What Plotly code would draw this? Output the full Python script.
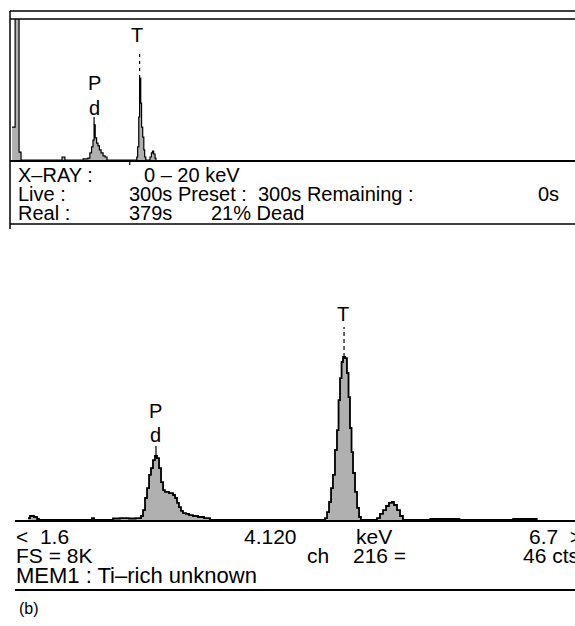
import plotly.graph_objects as go

W, H = 575, 626

# ---------------- data ----------------
# survey spectrum, 0-20 keV (channel start energy in keV, counts)
top_kev = [-0.07, 0.04, 0.18, 0.25, 1.71, 1.81,
           2.46, 2.63, 2.70, 2.76, 2.81, 2.85, 2.89, 2.94, 2.99, 3.04, 3.10, 3.17, 3.24, 3.31,
           4.37, 4.40, 4.44, 4.47, 4.51, 4.54, 4.58, 4.62, 4.65, 4.69,
           4.84, 4.89, 4.93, 4.97, 5.02, 5.05]
top_counts = [1870, 12000, 450, 0, 170, 0,
              60, 110, 400, 740, 1130, 1990, 1250, 960, 800, 570, 400, 230, 170, 0,
              170, 740, 2440, 4650, 3230, 1870, 1300, 570, 170, 0,
              170, 400, 510, 340, 110, 0]

# expanded spectrum, 1.6-6.7 keV
bot_kev = [1.698, 1.716, 1.752, 1.779, 1.796,
           2.270, 2.288,
           2.457, 2.520, 2.600, 2.660,
           2.707, 2.725, 2.743, 2.761, 2.779, 2.796, 2.814, 2.832, 2.850, 2.868, 2.886, 2.904,
           2.921, 2.939, 2.957, 2.975, 2.993, 3.011, 3.029, 3.046, 3.064, 3.082, 3.109, 3.136,
           3.171, 3.216, 3.270, 3.323,
           4.350, 4.368, 4.386, 4.404, 4.421, 4.439, 4.457, 4.471, 4.484, 4.498, 4.511, 4.529,
           4.546, 4.560, 4.573, 4.587, 4.600, 4.618, 4.636, 4.654, 4.671,
           4.814, 4.841, 4.868, 4.895, 4.921, 4.948, 4.966, 4.993, 5.020, 5.046,
           5.290, 5.550, 6.030, 6.240]
bot_counts = [70, 145, 110, 36, 0,
              70, 0,
              55, 70, 55, 70,
              145, 360, 800, 1160, 1640, 1890, 2180, 2330, 2250, 1890, 1380, 1090,
              1020, 1020, 980, 980, 910, 800, 620, 470, 330, 250, 220, 180,
              145, 110, 70, 0,
              70, 290, 655, 1160, 1640, 2545, 3270, 4360, 5160, 5745, 5930, 5890,
              5345, 4470, 3345, 2470, 1710, 1020, 440, 110, 0,
              70, 220, 360, 510, 620, 655, 545, 360, 145, 0,
              36, 0, 36, 0]

cursor_kev = 4.12

top_lines = [("X\u2013RAY :", 17), ("0 \u2013 20 keV", 143),
             ("Live :", 17), ("300s Preset :  300s Remaining :", 128), ("0s", 537),
             ("Real :", 17), ("379s", 128), ("21% Dead", 210)]
bot_lines = [("<  1.6", 15), ("4.120", 300), ("keV", 355), ("6.7  >", 528),
             ("FS = 8K", 15), ("ch", 306), ("216 =", 352), ("46 cts", 522),
             ("MEM1 : Ti\u2013rich unknown", 15), ("(b)", 18)]

# ---------------- figure ----------------
def px(x):
    return x / W

def py(y):
    return 1 - y / H

FILL = dict(shape=".", size=2, solidity=0.5, fgcolor="#4a4a4a", bgcolor="#cccccc")

fig = go.Figure()
fig.add_trace(go.Scatter(x=top_kev, y=top_counts, mode="lines", line_shape="hv",
                         line=dict(color="black", width=1.2), fill="tozeroy",
                         fillcolor="#b0b0b0", fillpattern=FILL,
                         xaxis="x", yaxis="y", hoverinfo="skip"))
fig.add_trace(go.Scatter(x=bot_kev, y=bot_counts, mode="lines", line_shape="hv",
                         line=dict(color="black", width=1.8), fill="tozeroy",
                         fillcolor="#b0b0b0", fillpattern=FILL,
                         xaxis="x2", yaxis="y2", hoverinfo="skip"))

axis_common = dict(showgrid=False, zeroline=False, showticklabels=False, ticks="",
                   fixedrange=True)
YMAX = 8000
top_y0, top_y1 = 160, 19
bot_y0, bot_y1 = 520, 300
top_cpp = YMAX / (top_y0 - top_y1)   # counts per pixel
bot_cpp = YMAX / (bot_y0 - bot_y1)

fig.update_layout(
    width=W, height=H, margin=dict(l=0, r=0, t=0, b=0),
    paper_bgcolor="white", plot_bgcolor="white", showlegend=False,
    font=dict(family="Liberation Sans, Arial, sans-serif", color="black"),
    xaxis=dict(domain=[px(10), 1], range=[(10 - 14) / 28.1, (575 - 14) / 28.1],
               anchor="y", showline=True, linecolor="black", linewidth=1.5, **axis_common),
    yaxis=dict(domain=[py(top_y0), py(top_y1)], range=[0, YMAX], visible=False,
               anchor="x", fixedrange=True),
    xaxis2=dict(domain=[px(15), 1], range=[1.6 + (15 - 17) / 112, 1.6 + (575 - 17) / 112],
                anchor="y2", showline=True, linecolor="black", linewidth=1.6, **axis_common),
    yaxis2=dict(domain=[py(bot_y0), py(bot_y1)], range=[0, YMAX], visible=False,
                anchor="x2", fixedrange=True),
)

shapes = [
    dict(type="line", xref="paper", yref="paper", x0=px(10), x1=1, y0=py(11), y1=py(11),
         line=dict(color="black", width=1.5)),
    dict(type="line", xref="paper", yref="paper", x0=px(10), x1=1, y0=py(19), y1=py(19),
         line=dict(color="black", width=1.5)),
    dict(type="line", xref="paper", yref="paper", x0=px(10), x1=px(10), y0=py(11), y1=py(229),
         line=dict(color="black", width=1.5)),
    dict(type="line", xref="paper", yref="paper", x0=px(10), x1=1, y0=py(224), y1=py(224),
         line=dict(color="black", width=1.5)),
    dict(type="line", xref="paper", yref="paper", x0=px(15), x1=1, y0=py(590), y1=py(590),
         line=dict(color="black", width=2)),
    dict(type="line", xref="x", yref="paper", x0=cursor_kev, x1=cursor_kev, y0=py(160), y1=py(165),
         line=dict(color="black", width=1.2)),
]

# peak markers (located from the data)
def peak(kev, counts, lo, hi):
    c = max(v for k, v in zip(kev, counts) if lo < k < hi)
    k = [k for k, v in zip(kev, counts) if v == c and lo < k < hi][0]
    return k, c

top_pd_k, top_pd = peak(top_kev, top_counts, 2.5, 3.2)
top_ti_k, top_ti = peak(top_kev, top_counts, 4.3, 4.7)
bot_pd_k, bot_pd = peak(bot_kev, bot_counts, 2.5, 3.2)
bot_ti_k, bot_ti = peak(bot_kev, bot_counts, 4.3, 4.7)
bot_pd_k += 0.009
bot_ti_k += 0.009

shapes += [
    dict(type="line", xref="x", yref="y", x0=top_pd_k, x1=top_pd_k, y0=top_pd,
         y1=top_pd + 8 * top_cpp, line=dict(color="black", width=1.2)),
    dict(type="line", xref="x", yref="y", x0=top_ti_k, x1=top_ti_k, y0=top_ti,
         y1=top_ti + 28 * top_cpp, line=dict(color="black", width=1.2, dash="3px,4px")),
    dict(type="line", xref="x2", yref="y2", x0=bot_pd_k, x1=bot_pd_k, y0=bot_pd,
         y1=bot_pd + 10 * bot_cpp, line=dict(color="black", width=1.2)),
    dict(type="line", xref="x2", yref="y2", x0=bot_ti_k, x1=bot_ti_k, y0=bot_ti,
         y1=bot_ti + 30 * bot_cpp, line=dict(color="black", width=1.2, dash="4px,3px")),
]
fig.update_layout(shapes=shapes)

ann = []
def lab(text, xk, yc, xr, yr, shift, size=20):
    ann.append(dict(text=text, x=xk, y=yc, xref=xr, yref=yr, showarrow=False,
                    xanchor="center", yanchor="middle", yshift=shift,
                    font=dict(size=size)))

lab("P", top_pd_k, top_pd, "x", "y", 42)
lab("d", top_pd_k, top_pd, "x", "y", 17)
lab("T", top_ti_k - 0.08, top_ti, "x", "y", 43)
lab("P", bot_pd_k, bot_pd, "x2", "y2", 45)
lab("d", bot_pd_k, bot_pd, "x2", "y2", 21)
lab("T", bot_ti_k - 0.01, bot_ti, "x2", "y2", 43)

top_rows = [175, 175, 194, 194, 194, 213, 213, 213]
for (t, x), y in zip(top_lines, top_rows):
    ann.append(dict(text=t, x=px(x - 1), y=py(y), xref="paper", yref="paper", showarrow=False,
                    xanchor="left", yanchor="middle", font=dict(size=20)))
bot_rows = [536, 536, 536, 536, 555, 555, 555, 555, 575, 608]
for (t, x), y in zip(bot_lines, bot_rows):
    xa = "right" if t == "4.120" else "left"
    size = 16 if t == "(b)" else (22 if t.startswith("MEM1") else 21)
    ann.append(dict(text=t, x=px(x - 1), y=py(y), xref="paper", yref="paper", showarrow=False,
                    xanchor=xa, yanchor="middle", font=dict(size=size)))
fig.update_layout(annotations=ann)

fig.write_html("out.html", config={"displayModeBar": False},
               post_script="document.body.style.margin='0px';")
